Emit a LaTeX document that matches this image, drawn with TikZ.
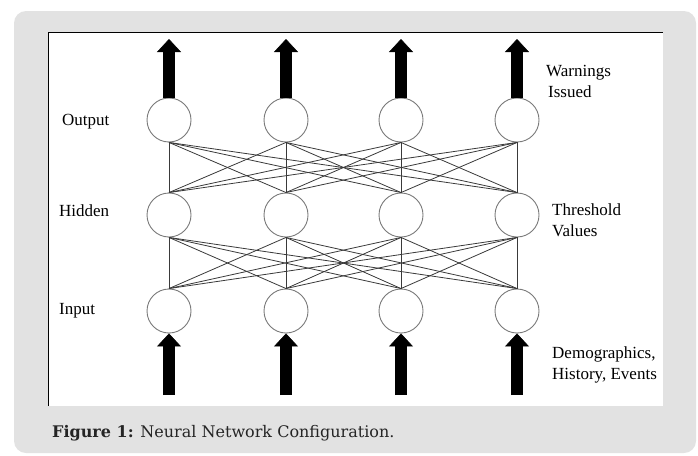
\documentclass[tikz,border=0pt]{standalone}
\usepackage{fontspec}
\setmainfont{Liberation Serif}
\newfontfamily\capfont{DejaVu Serif}
\usetikzlibrary{arrows.meta}
\definecolor{panelgray}{HTML}{E2E2E2}
\definecolor{edgegray}{HTML}{3A3A3A}
\definecolor{ringgray}{HTML}{7A7A7A}
\definecolor{capgray}{HTML}{252525}
\begin{document}
\begin{tikzpicture}[x=1pt,y=-1pt,
	neuron/.style={circle,draw=ringgray,line width=0.9pt,fill=white,minimum size=44pt,inner sep=0pt},
	link/.style={draw=edgegray,line width=0.8pt},
	fat/.style={line width=12pt,black,-{Triangle[width=24pt,length=13pt,line width=0.5pt]}},
	lbl/.style={font=\fontsize{17}{21}\selectfont,anchor=west,align=left,inner sep=0pt}]
	\useasboundingbox (0,0) rectangle (698,455);
	\fill [panelgray,rounded corners=12pt] (14,11) rectangle (696,453);
	\fill [white] (48,32) rectangle (663,406);
	\draw [black,line width=1pt] (48,406) -- (48,32) -- (663,32);
	% layers
	\foreach \i/\x in {1/169,2/286,3/401,4/517} {
		\node [neuron] (o\i) at (\x,120) {};
		\node [neuron] (h\i) at (\x,215) {};
		\node [neuron] (n\i) at (\x,311) {};
		\coordinate (top\i) at (\x,39);
		\coordinate (bot\i) at (\x,395);
	}
	\foreach \i in {1,...,4}
		\foreach \j in {1,...,4} {
			\draw [link] (o\i.south) -- (h\j.north);
			\draw [link] (h\i.south) -- (n\j.north);
		}
	\foreach \i in {1,...,4} {
		\draw [fat] (o\i.north) -- (top\i);
		\draw [fat] (bot\i) -- (n\i.south);
	}
	% labels
	\node [lbl] (outlbl) at (62,122) {Output};
	\node [lbl] (hidlbl) at (59,211) {Hidden};
	\node [lbl] (inlbl) at (59,311) {Input};
	\node [lbl] (warn) at (546,81) {Warnings\\\hspace{2pt}Issued};
	\node [lbl] (thresh) at (552,220) {Threshold\\Values};
	\node [lbl] (demo) at (552,365) {Demographics,\\History, Events};
	\node [anchor=base west,inner sep=0pt,text=capgray,font=\capfont\fontsize{16}{20}\selectfont] (cap) at (52,437) {\textbf{Figure 1:} Neural Network Configuration.};
\end{tikzpicture}
\end{document}
